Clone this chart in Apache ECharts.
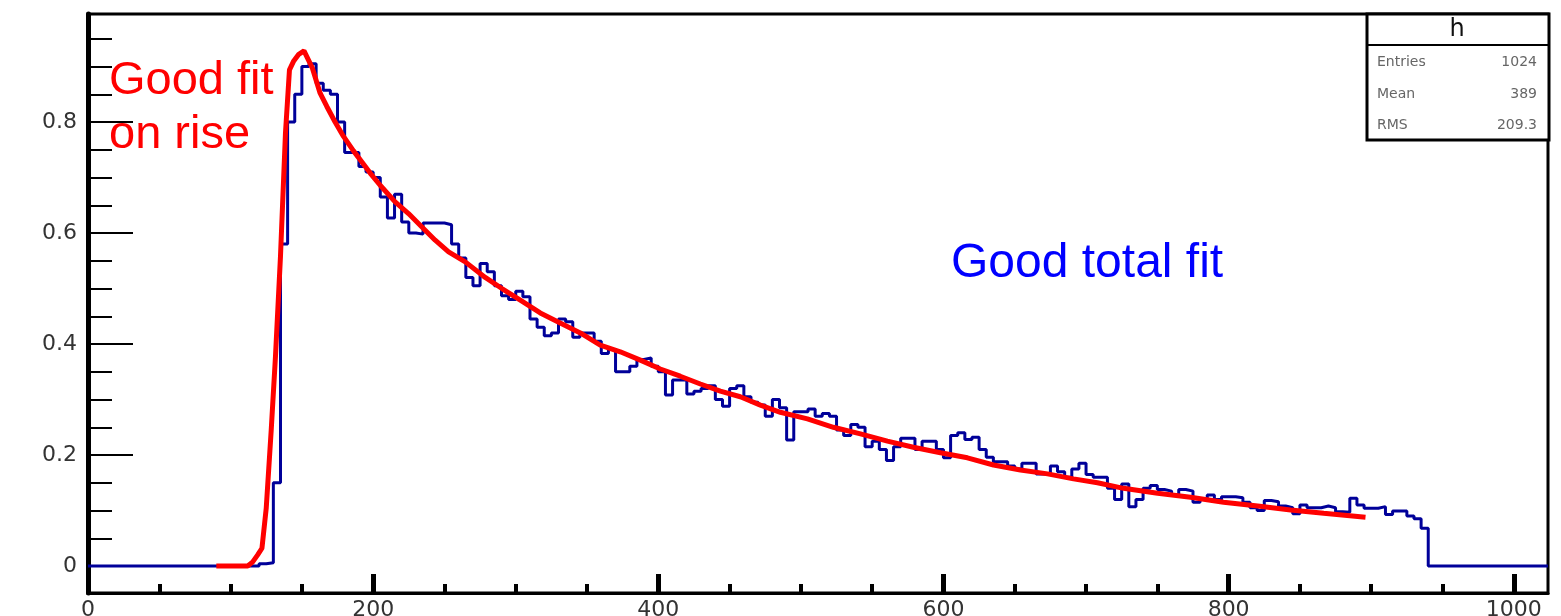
<!DOCTYPE html>
<html>
<head>
<meta charset="utf-8">
<title>h</title>
<script src="https://cdn.jsdelivr.net/npm/echarts@6/dist/echarts.min.js"></script>
<style>
  html, body { margin: 0; padding: 0; background: #fff; }
  #main { width: 1561px; height: 616px; }
</style>
</head>
<body>
<div id="main"></div>
<script>
// histogram h, bins of width 5 from x = 120
const binStart = 120
const binWidth = 5
const binValues = [
  0.004, 0.006, 0.15, 0.58, 0.80, 0.85, 0.90, 0.905, 0.87, 0.857,
  0.85, 0.80, 0.745, 0.745, 0.72, 0.71, 0.70, 0.665, 0.627, 0.67,
  0.62, 0.60, 0.598, 0.618, 0.618, 0.618, 0.615, 0.58, 0.555, 0.52,
  0.505, 0.545, 0.53, 0.505, 0.487, 0.48, 0.495, 0.485, 0.445, 0.43,
  0.415, 0.42, 0.445, 0.44, 0.412, 0.42, 0.42, 0.405, 0.383, 0.39,
  0.35, 0.35, 0.36, 0.372, 0.375, 0.36, 0.35, 0.308, 0.335, 0.335,
  0.31, 0.315, 0.32, 0.325, 0.30, 0.288, 0.32, 0.325, 0.305, 0.295,
  0.29, 0.27, 0.30, 0.285, 0.227, 0.278, 0.278, 0.283, 0.27, 0.275,
  0.27, 0.245, 0.235, 0.255, 0.25, 0.215, 0.225, 0.21, 0.19, 0.215,
  0.23, 0.23, 0.21, 0.225, 0.225, 0.21, 0.195, 0.235, 0.24, 0.228,
  0.232, 0.21, 0.196, 0.188, 0.188, 0.18, 0.175, 0.185, 0.185, 0.166,
  0.166, 0.18, 0.17, 0.16, 0.175, 0.185, 0.165, 0.16, 0.16, 0.14,
  0.12, 0.148, 0.107, 0.12, 0.14, 0.145, 0.138, 0.135, 0.128, 0.138,
  0.135, 0.115, 0.12, 0.128, 0.12, 0.125, 0.125, 0.123, 0.115, 0.105,
  0.10, 0.118, 0.116, 0.108, 0.105, 0.094, 0.11, 0.105, 0.105, 0.108,
  0.105, 0.098, 0.097, 0.122, 0.11, 0.104, 0.104, 0.107, 0.093, 0.099,
  0.099, 0.09, 0.085, 0.068
]
const histMax = 1024

// fit function (red)
const fitX = [
  90, 112, 115.4, 119, 122, 125, 128.5, 131.5, 135, 138.5,
  141.3, 144.3, 147.8, 151.5, 157.4, 162.8, 167.5, 173.3, 179.2, 186.2,
  192.1, 197.9, 204.9, 215.4, 224.8, 234.2, 243.5, 252.9, 264.6, 278.6,
  290.3, 303.2, 317.2, 331.2, 345.3, 359.3, 373.3, 387.4, 401.4, 415.4,
  429.5, 443.5, 457.5, 471.6, 485.6, 504.6, 522.8, 541.8, 560.7, 578.9,
  597.9, 616.8, 635.1, 654, 673, 691.2, 708, 726.3, 750.2, 773.3,
  796.5, 820.4, 843.5, 866.7, 896
]
const fitY = [
  0, 0, 0.007, 0.02, 0.032, 0.104, 0.245, 0.378, 0.558, 0.78,
  0.894, 0.91, 0.922, 0.928, 0.897, 0.852, 0.828, 0.80, 0.774, 0.748,
  0.728, 0.708, 0.686, 0.656, 0.635, 0.611, 0.587, 0.566, 0.548, 0.52,
  0.50, 0.479, 0.456, 0.438, 0.42, 0.398, 0.386, 0.371, 0.355, 0.342,
  0.328, 0.315, 0.305, 0.29, 0.277, 0.265, 0.25, 0.238, 0.225, 0.214,
  0.204, 0.195, 0.182, 0.173, 0.166, 0.157, 0.15, 0.14, 0.131, 0.124,
  0.115, 0.108, 0.101, 0.095, 0.088
]

const xMajorTicks = [0, 200, 400, 600, 800, 1000]
const xMinorTicks = [50, 100, 150, 250, 300, 350, 450, 500, 550, 650, 700, 750, 850, 900, 950]
const yMajorTicks = [0, 0.2, 0.4, 0.6, 0.8]
const yMinorTicks = [0.05, 0.1, 0.15, 0.25, 0.3, 0.35, 0.45, 0.5, 0.55, 0.65, 0.7, 0.75, 0.85, 0.9, 0.95]
const yMin = -0.0486
const yMax = 0.9946

const statTitle = 'h'
const statNames = ['Entries', 'Mean', 'RMS']
const statValues = ['1024', '389', '209.3']

// build step data: each point is the left edge of a bin
const histData = [[0, 0]]
for (let i = 0; i < binValues.length; i++) {
  histData.push([binStart + i * binWidth, binValues[i]])
}
histData.push([binStart + binValues.length * binWidth, 0])
histData.push([histMax, 0])

const fitData = fitX.map((x, i) => [x, fitY[i]])

const labelFont = { fontFamily: 'DejaVu Sans', fontSize: 22, color: '#333' }

function xAxisBase(ticks, major) {
  return {
    type: 'value',
    position: 'bottom',
    min: 0,
    max: histMax,
    axisLine: { show: major, onZero: false, lineStyle: { color: '#000', width: 3 } },
    axisTick: {
      show: true,
      inside: true,
      customValues: ticks,
      length: major ? 19 : 9,
      lineStyle: { color: '#000', width: major ? 5 : 4 }
    },
    axisLabel: major
      ? Object.assign({ show: true, customValues: ticks, margin: 6, formatter: v => String(v) }, labelFont)
      : { show: false },
    splitLine: { show: false }
  }
}

function yAxisBase(ticks, major) {
  return {
    type: 'value',
    position: 'left',
    min: yMin,
    max: yMax,
    axisLine: { show: major, onZero: false, lineStyle: { color: '#000', width: 5 } },
    axisTick: {
      show: true,
      inside: true,
      customValues: ticks,
      length: major ? 45 : 24,
      lineStyle: { color: '#000', width: 2 }
    },
    axisLabel: major
      ? Object.assign({ show: true, customValues: ticks, margin: 11, formatter: v => String(v) }, labelFont)
      : { show: false },
    splitLine: { show: false }
  }
}

const chart = echarts.init(document.getElementById('main'))

const graphics = [
  // stats box
  { type: 'rect', shape: { x: 1367, y: 14, width: 182, height: 126 }, style: { fill: '#fff', stroke: '#000', lineWidth: 3 }, z: 100 },
  { type: 'line', shape: { x1: 1367, y1: 45, x2: 1549, y2: 45 }, style: { stroke: '#000', lineWidth: 2 }, z: 101 },
  { type: 'text', x: 1457, y: 30, z: 101, style: { text: statTitle, font: '24px "DejaVu Sans"', fill: '#111', align: 'center', verticalAlign: 'middle', textAlign: 'center', textVerticalAlign: 'middle' } },
  // annotations
  { type: 'text', x: 109, y: 58, z: 50, style: { text: 'Good fit', font: '47px "Liberation Sans"', fill: '#ff0000', align: 'left', verticalAlign: 'top', textAlign: 'left', textVerticalAlign: 'top' } },
  { type: 'text', x: 109, y: 112, z: 50, style: { text: 'on rise', font: '47px "Liberation Sans"', fill: '#ff0000', align: 'left', verticalAlign: 'top', textAlign: 'left', textVerticalAlign: 'top' } },
  { type: 'text', x: 951, y: 240, z: 50, style: { text: 'Good total fit', font: '48px "Liberation Sans"', fill: '#0000ff', align: 'left', verticalAlign: 'top', textAlign: 'left', textVerticalAlign: 'top' } }
]
const rowY = [62, 94, 125]
for (let i = 0; i < statNames.length; i++) {
  graphics.push({ type: 'text', x: 1377, y: rowY[i], z: 101, style: { text: statNames[i], font: '14px "DejaVu Sans"', fill: '#666', align: 'left', verticalAlign: 'middle', textAlign: 'left', textVerticalAlign: 'middle' } })
  graphics.push({ type: 'text', x: 1537, y: rowY[i], z: 101, style: { text: statValues[i], font: '14px "DejaVu Sans"', fill: '#666', align: 'right', verticalAlign: 'middle', textAlign: 'right', textVerticalAlign: 'middle' } })
}

chart.setOption({
  animation: false,
  backgroundColor: '#fff',
  grid: {
    left: 88,
    right: 13,
    top: 14,
    bottom: 23,
    containLabel: false,
    outerBoundsMode: 'none',
    show: true,
    borderColor: '#000',
    borderWidth: 3,
    backgroundColor: 'transparent'
  },
  xAxis: [xAxisBase(xMajorTicks, true), xAxisBase(xMinorTicks, false)],
  yAxis: [yAxisBase(yMajorTicks, true), yAxisBase(yMinorTicks, false)],
  series: [
    {
      name: 'h',
      type: 'line',
      step: 'end',
      data: histData,
      showSymbol: false,
      silent: true,
      z: 2,
      lineStyle: { color: '#000099', width: 3 }
    },
    {
      name: 'fit',
      type: 'line',
      data: fitData,
      showSymbol: false,
      silent: true,
      z: 3,
      lineStyle: { color: '#ff0000', width: 5 }
    }
  ],
  graphic: graphics
})
</script>
</body>
</html>
